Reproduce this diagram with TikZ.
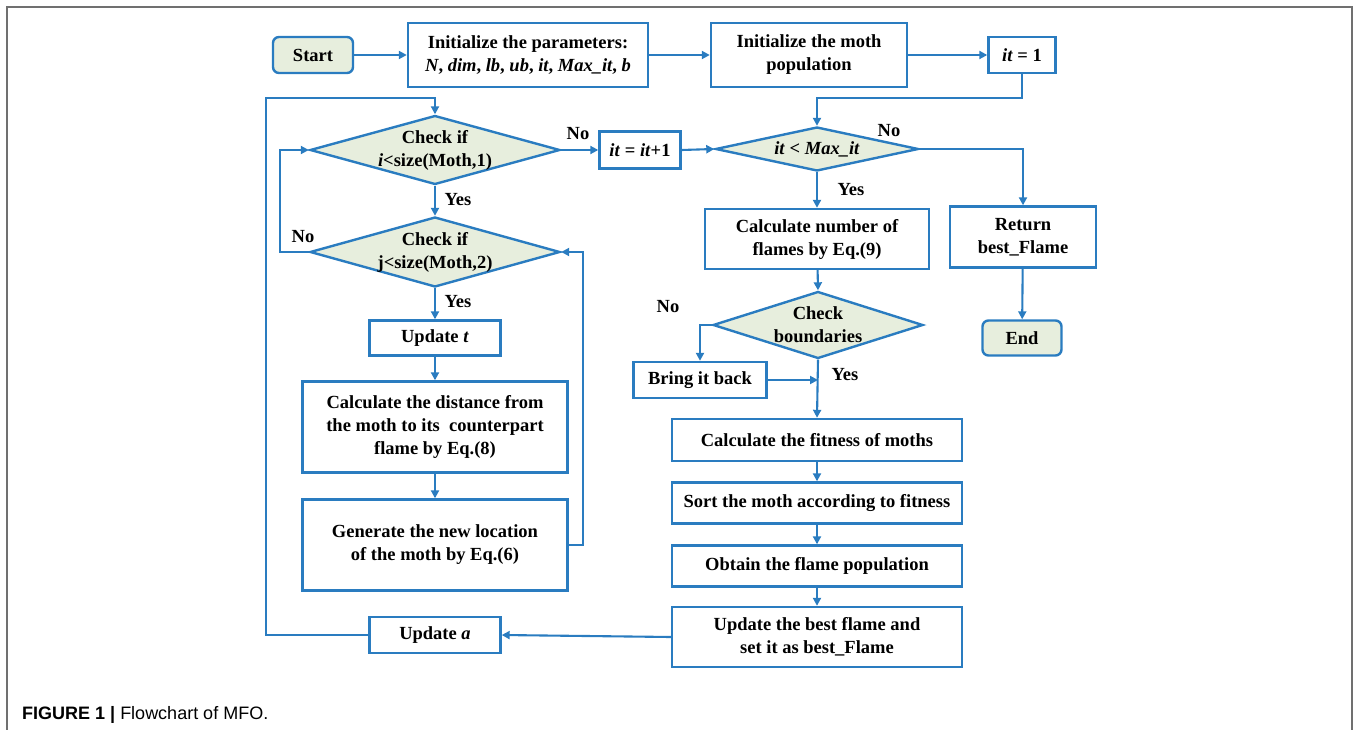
\documentclass[tikz,border=0pt]{standalone}
\usepackage{fontspec}
\setmainfont{Liberation Serif}
\newfontfamily\capfont{Liberation Sans}
\usetikzlibrary{shapes.geometric,arrows.meta}
\definecolor{fcblue}{RGB}{42,124,192}
\definecolor{fcfill}{RGB}{231,238,221}
\definecolor{frame}{RGB}{112,112,112}
\tikzset{
  box/.style={draw=fcblue, line width=2.4pt, inner sep=0pt, align=center,
    font=\fontsize{18.5}{23}\selectfont\bfseries},
  term/.style={box, fill=fcfill, rounded corners=6pt},
  dia/.style={draw=fcblue, fill=fcfill, line width=2.4pt, diamond, inner sep=0pt, shape aspect=3},
  dtext/.style={inner sep=0pt, align=center, font=\fontsize{18.5}{23}\selectfont\bfseries},
  lab/.style={inner sep=0pt, font=\fontsize{18.5}{20}\selectfont\bfseries},
  arr/.style={draw=fcblue, line width=2.1pt, -{Triangle[length=8pt,width=8pt]}},
}
\begin{document}
\begin{tikzpicture}[x=1pt,y=-1pt]
\useasboundingbox (0,0) rectangle (1354,730);
\draw[frame, line width=1.5pt] (7,730) -- (7,7) -- (1352,7) -- (1352,730);

% top row
\node[term, minimum width=80, minimum height=36] (start) at (313,55) {Start};
\node[box, minimum width=240, minimum height=64] (init) at (528,55) {Initialize the parameters:\\\textit{N}, \textit{dim}, \textit{lb}, \textit{ub}, \textit{it}, \textit{Max\_it}, \textit{b}};
\node[box, minimum width=196, minimum height=64] (moth) at (809,55) {Initialize the moth\\population};
\node[box, minimum width=67, minimum height=36] (it1) at (1022,55) {\textit{it} = 1};

% left column
\node[dia, minimum width=250, minimum height=69] (d1) at (435,150) {};
\node[dtext] (d1t) at (435,150) {Check if\\\textit{i}<size(Moth,1)};
\node[dia, minimum width=250, minimum height=70] (d2) at (435,252) {};
\node[dtext] (d2t) at (435,252) {Check if\\j<size(Moth,2)};
\node[box, minimum width=131, minimum height=35] (ut) at (435,338) {Update \textit{t}};
\node[box, minimum width=265, minimum height=91] (dist) at (435,427) {Calculate the distance from\\the moth to its\ \ counterpart\\flame by Eq.(8)};
\node[box, minimum width=265, minimum height=91] (gen) at (435,545) {Generate the new location\\of the moth by Eq.(6)};
\node[box, minimum width=131, minimum height=36] (ua) at (435,635) {Update \textit{a}};

% middle column
\node[box, minimum width=81, minimum height=37] (itp) at (640,150) {\textit{it} = \textit{it}+1};
\node[dia, minimum width=203, minimum height=44] (d3) at (817,149) {};
\node[dtext] (d3t) at (817,149) {\textit{it} < \textit{Max\_it}};
\node[box, minimum width=224, minimum height=60] (calc) at (817,239) {Calculate number of\\flames by Eq.(9)};
\node[dia, minimum width=210, minimum height=67] (d4) at (818,325) {};
\node[dtext] (d4t) at (818,325) {Check\\boundaries};
\node[box, minimum width=133, minimum height=36] (bring) at (700,380) {Bring it back};
\node[box, minimum width=290, minimum height=42] (fit) at (817,440) {Calculate the fitness of moths};
\node[box, minimum width=290, minimum height=41] (sort) at (817,503) {Sort the moth according to fitness};
\node[box, minimum width=290, minimum height=41] (obt) at (817,566) {Obtain the flame population};
\node[box, minimum width=290, minimum height=60] (upd) at (817,637) {Update the best flame and\\set it as best\_Flame};

% right column
\node[box, minimum width=146, minimum height=61] (ret) at (1023,237) {Return\\best\_Flame};
\node[term, minimum width=79, minimum height=35] (end) at (1022,338) {End};

% helper coordinates
\coordinate (c1) at (266,98);
\coordinate (c2) at (280,252);
\coordinate (c3) at (583,545);
\coordinate (c4) at (1022,98);

% connectors
\draw[arr] (start) -- (init);
\draw[arr] (init) -- (moth);
\draw[arr] (moth) -- (it1);
\draw[arr] (it1.south) -- (c4) -| (d3.north);
\draw[arr] (d3.east) -| (ret.north);
\draw[arr] (ret) -- (end);
\draw[arr] (d3.south) -- (calc.north);
\draw[arr] (calc) -- (d4.north);
\draw[arr] (d4.west) -| (bring.north);
\draw[arr] (bring.east) -- (bring.east -| d4.south);
\draw[arr] (d4.south) -- (fit.north);
\draw[arr] (fit) -- (sort);
\draw[arr] (sort) -- (obt);
\draw[arr] (obt) -- (upd);
\draw[arr] (upd.west) -- (ua.east);
\draw[arr] (ua.west) -| (c1) -| (d1.north);
\draw[arr] (d1.east) -- (itp.west);
\draw[arr] (itp.east) -- (d3.west);
\draw[arr] (d1.south) -- (d2.north);
\draw[arr] (d2.west) -- (c2) |- (d1.west);
\draw[arr] (d2.south) -- (ut.north);
\draw[arr] (ut) -- (dist);
\draw[arr] (dist) -- (gen);
\draw[arr] (gen.east) -- (c3) |- (d2.east);

% branch labels
\node[lab] (l1) at (578,134) {No};
\node[lab] (l2) at (458,200) {Yes};
\node[lab] (l3) at (303,237) {No};
\node[lab] (l4) at (458,302) {Yes};
\node[lab] (l5) at (889,131) {No};
\node[lab] (l6) at (851,190) {Yes};
\node[lab] (l7) at (668,307) {No};
\node[lab] (l8) at (845,375) {Yes};

% caption
\node[anchor=base west, inner sep=0pt, font=\capfont\fontsize{18}{20}\selectfont] (cap) at (22,719) {\textbf{FIGURE 1 |} Flowchart of MFO.};
\end{tikzpicture}
\end{document}
